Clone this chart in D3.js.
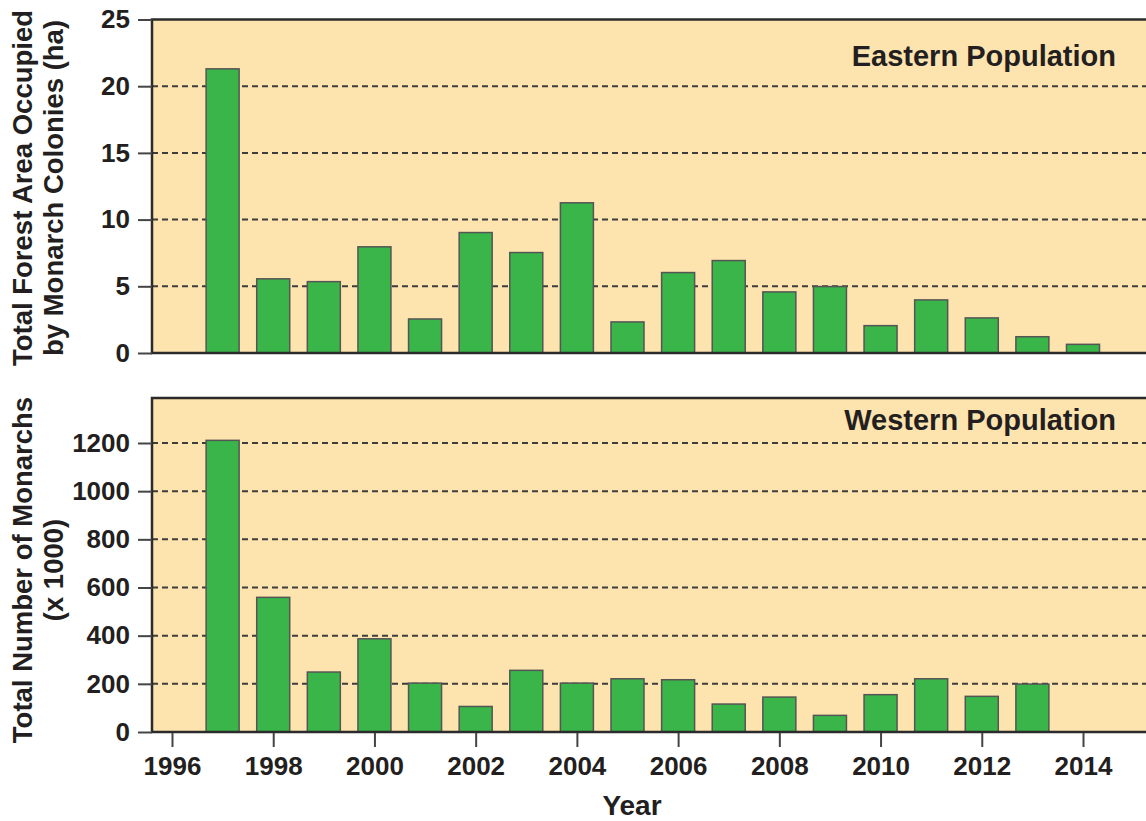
<!DOCTYPE html>
<html>
<head>
<meta charset="utf-8">
<script src="https://cdn.jsdelivr.net/npm/d3@7"></script>
<style>
  body { margin: 0; background: #fff; }
  svg text { font-family: "Liberation Sans", Arial, sans-serif; font-weight: bold; fill: #231f20; }
</style>
</head>
<body>
<div id="chart"></div>
<script>
// monarch overwintering data
const years = [1997, 1998, 1999, 2000, 2001, 2002, 2003, 2004, 2005, 2006, 2007, 2008, 2009, 2010, 2011, 2012, 2013, 2014];
const easternHa = [21.3, 5.56, 5.35, 7.96, 2.55, 9.03, 7.53, 11.26, 2.33, 6.03, 6.93, 4.58, 4.98, 2.05, 3.98, 2.63, 1.22, 0.65];
const westernK = [1211, 559, 249, 387, 203, 106, 256, 203, 221, 217, 116, 145, 69, 155, 221, 148, 199, null];
const xTicks = [1996, 1998, 2000, 2002, 2004, 2006, 2008, 2010, 2012, 2014];
const eastTicks = [0, 5, 10, 15, 20, 25];
const westTicks = [0, 200, 400, 600, 800, 1000, 1200];

const width = 1146;
const height = 821;
const panelLeft = 152;
const panelRight = 1152;
const barWidth = 33;
const bg = '#fde3ae';
const green = '#39b54a';

const svg = d3.select('#chart')
    .append('svg')
    .attr('width', width)
    .attr('height', height);

const x = d3.scaleLinear()
    .domain([1996, 2014])
    .range([172, 1083]);

function drawPanel(opts) {
    const y = opts.y;
    const g = svg.append('g');

    g.append('rect')
        .attr('x', panelLeft)
        .attr('y', opts.top)
        .attr('width', panelRight - panelLeft)
        .attr('height', opts.bottom - opts.top)
        .attr('fill', bg);

    // dashed grid
    g.selectAll('.grid')
        .data(opts.ticks.filter(t => t > 0 && y(t) > opts.top + 2))
        .enter()
        .append('line')
        .attr('x1', panelLeft)
        .attr('x2', panelRight)
        .attr('y1', d => y(d))
        .attr('y2', d => y(d))
        .attr('stroke', '#3d3d3d')
        .attr('stroke-width', 2)
        .attr('stroke-dasharray', '6,4');

    const rows = years.map((yr, i) => ({ year: yr, value: opts.values[i] }))
        .filter(d => d.value != null);

    g.selectAll('.bar')
        .data(rows)
        .enter()
        .append('rect')
        .attr('x', d => x(d.year) - barWidth / 2)
        .attr('y', d => y(d.value))
        .attr('width', barWidth)
        .attr('height', d => y(0) - y(d.value))
        .attr('fill', green)
        .attr('stroke', '#555')
        .attr('stroke-width', 1.5);

    // border
    g.append('path')
        .attr('d', `M${panelRight},${opts.top}H${panelLeft}V${opts.bottom}H${panelRight}`)
        .attr('fill', 'none')
        .attr('stroke', '#2b2b2b')
        .attr('stroke-width', 2.5);

    const axis = g.append('g')
        .attr('transform', `translate(${panelLeft},0)`)
        .call(d3.axisLeft(y).tickValues(opts.ticks).tickFormat(d3.format('d')).tickSize(14).tickPadding(8));
    axis.select('.domain').remove();
    axis.selectAll('.tick line').attr('stroke', '#444').attr('stroke-width', 2);
    axis.selectAll('.tick text')
        .attr('fill', '#231f20')
        .style('font-size', '26px');

    g.append('text')
        .attr('x', 1116)
        .attr('y', opts.titleY)
        .attr('text-anchor', 'end')
        .style('font-size', '29px')
        .text(opts.title);

    const lab = g.append('text')
        .attr('transform', `translate(32,${opts.labelCenter}) rotate(-90)`)
        .attr('text-anchor', 'middle')
        .style('font-size', '27.5px');
    lab.append('tspan').attr('x', 0).attr('y', 0).text(opts.label[0]);
    lab.append('tspan').attr('x', 0).attr('y', 31).text(opts.label[1]);

    return g;
}

const yEast = d3.scaleLinear().domain([0, 25]).range([353, 19.5]);
drawPanel({
    y: yEast, top: 19.5, bottom: 353,
    values: easternHa, ticks: eastTicks,
    title: 'Eastern Population', titleY: 66,
    label: ['Total Forest Area Occupied', 'by Monarch Colonies (ha)'],
    labelCenter: 188
});

const yWest = d3.scaleLinear().domain([0, 1200]).range([732, 443]);
drawPanel({
    y: yWest, top: 398, bottom: 732,
    values: westernK, ticks: westTicks,
    title: 'Western Population', titleY: 430,
    label: ['Total Number of Monarchs', '(x 1000)'],
    labelCenter: 570
});

const xAxis = svg.append('g')
    .attr('transform', 'translate(0,733)')
    .call(d3.axisBottom(x).tickValues(xTicks).tickFormat(d3.format('d')).tickSize(14).tickPadding(10));
xAxis.select('.domain').remove();
xAxis.selectAll('.tick line').attr('stroke', '#444').attr('stroke-width', 2);
xAxis.selectAll('.tick text')
    .attr('fill', '#231f20')
    .style('font-size', '26px');

svg.append('text')
    .attr('x', 632)
    .attr('y', 815)
    .attr('text-anchor', 'middle')
    .style('font-size', '28px')
    .text('Year');
</script>
</body>
</html>
